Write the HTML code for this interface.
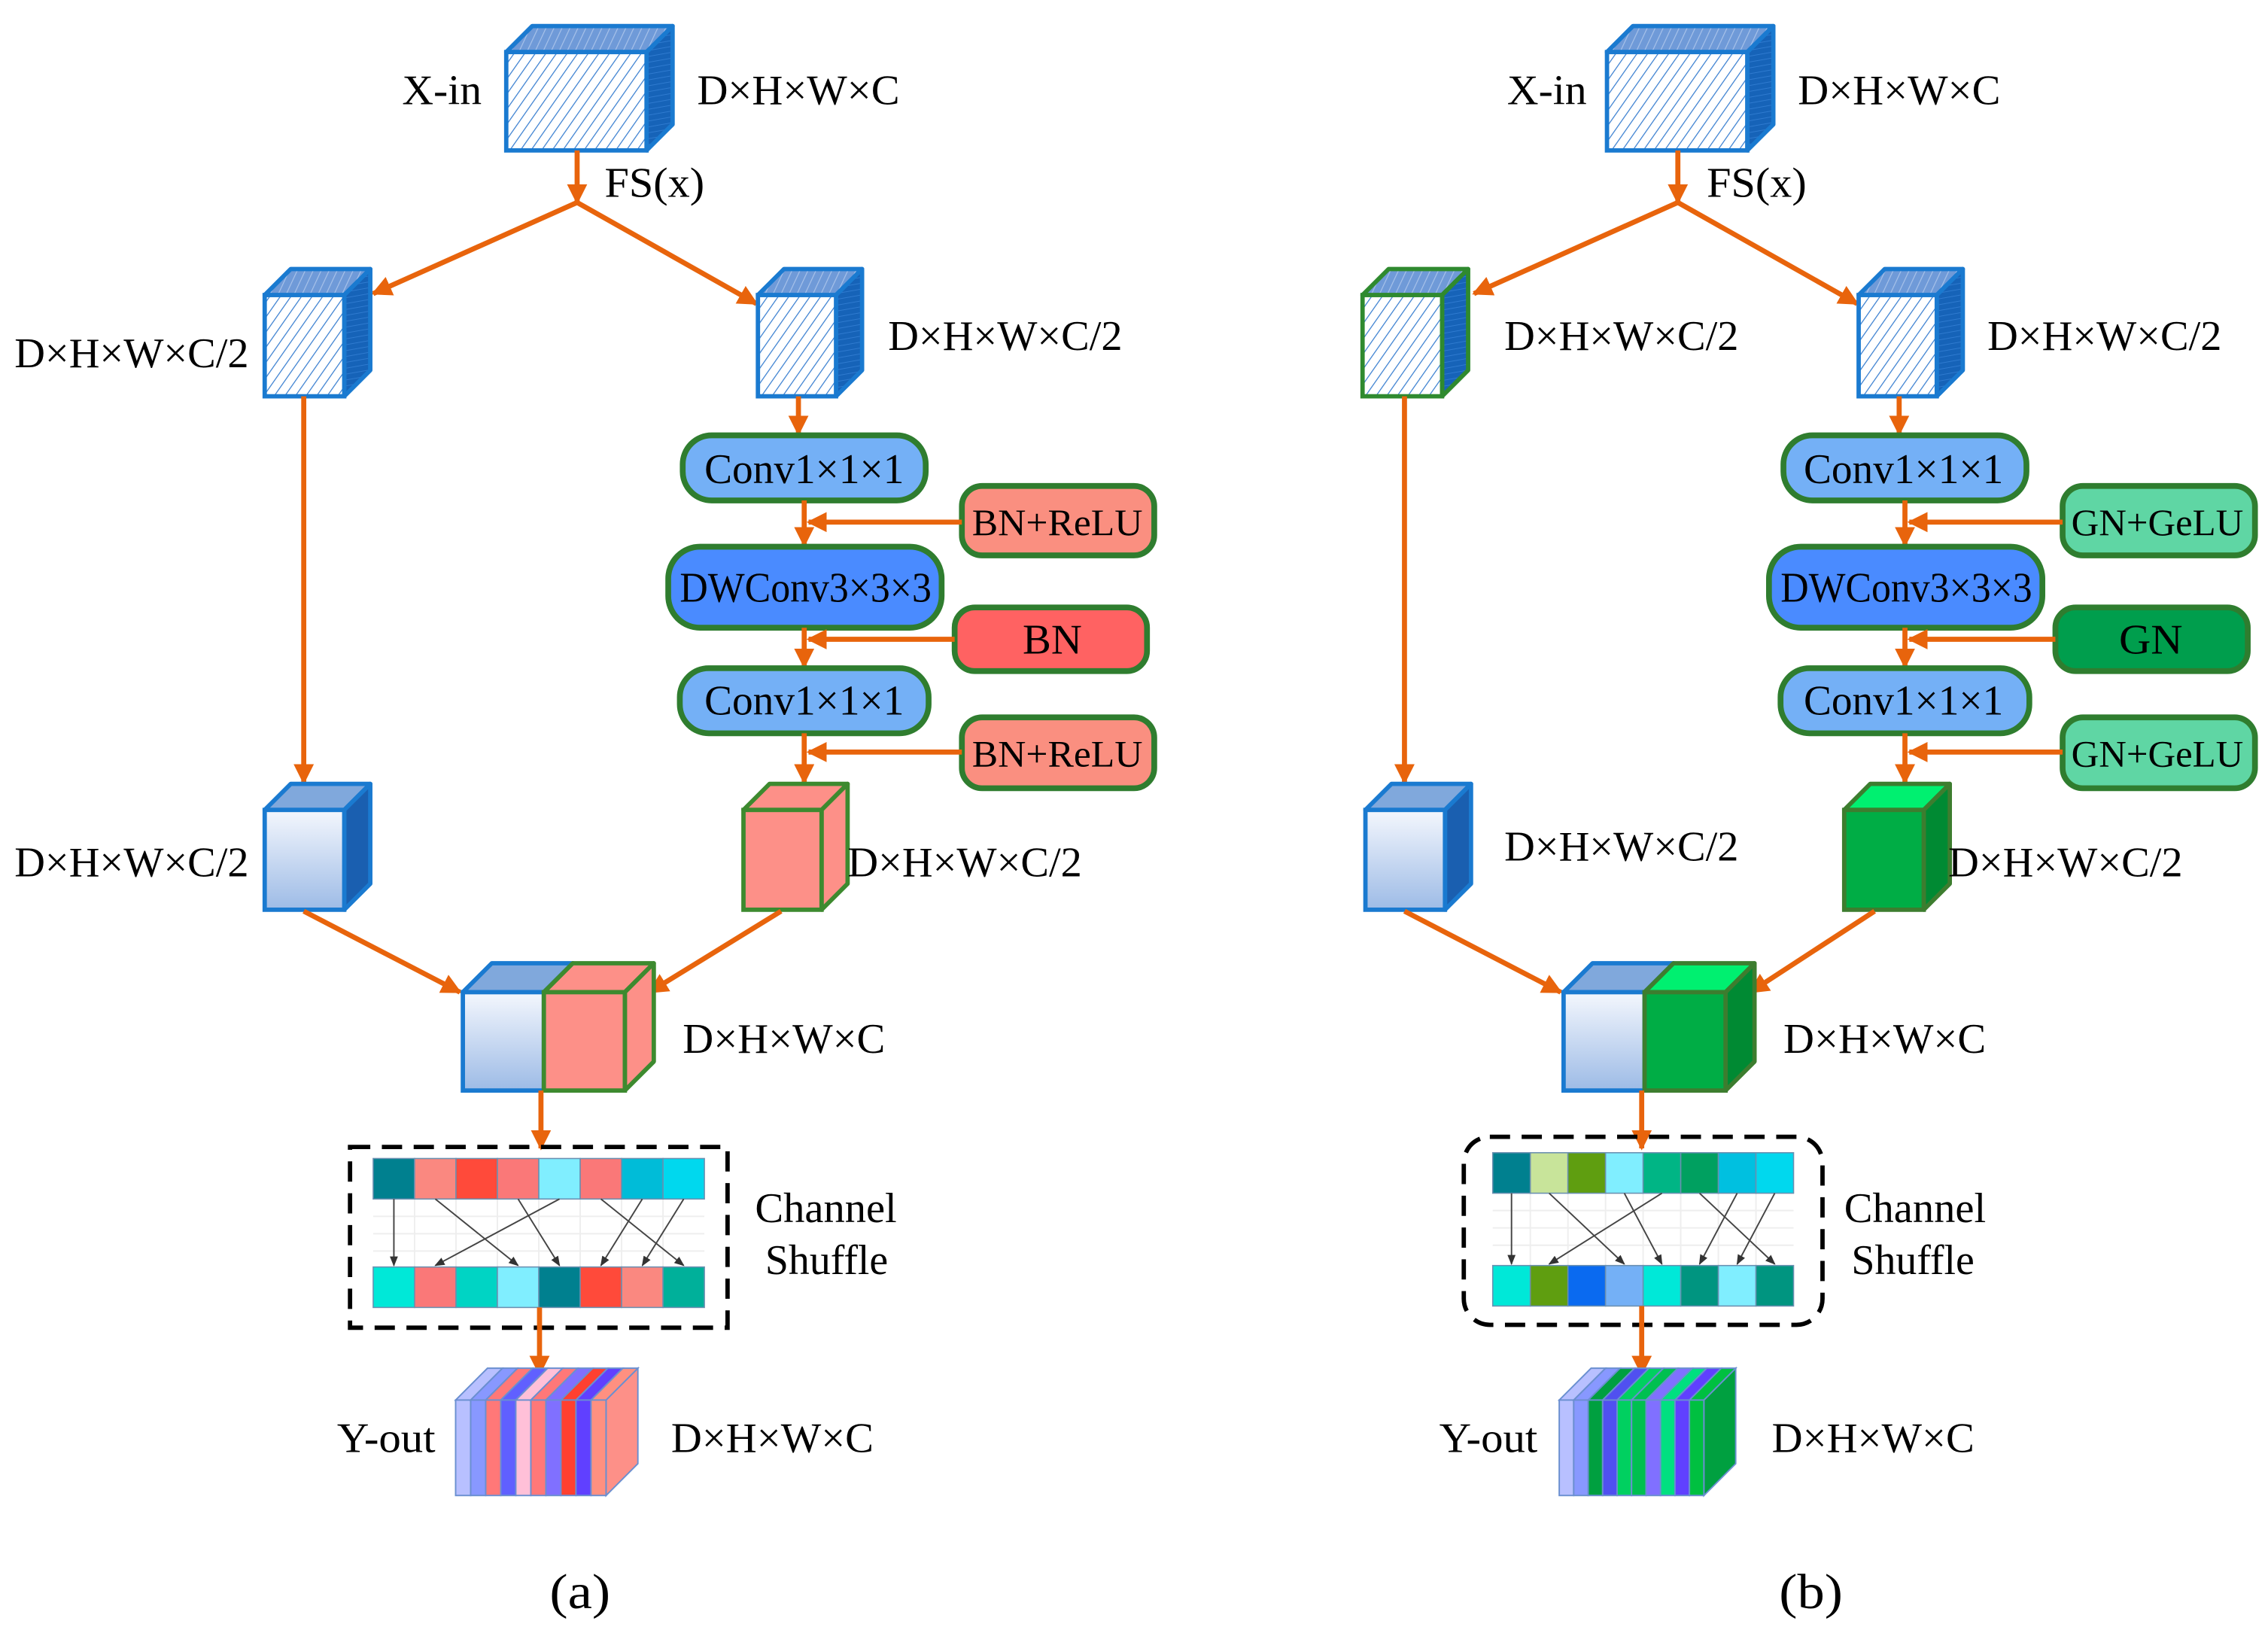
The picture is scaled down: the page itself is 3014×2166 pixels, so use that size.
<!DOCTYPE html>
<html><head><meta charset="utf-8">
<style>
html,body{margin:0;padding:0;background:#fff;}
svg{display:block;}
text{font-family:"Liberation Serif","DejaVu Serif",serif;fill:#000;}
</style></head><body>
<svg id="s" width="3014" height="2166" viewBox="0 0 1568 1127" preserveAspectRatio="none" xmlns="http://www.w3.org/2000/svg" font-family="Liberation Serif, DejaVu Serif, serif">
<defs>
<pattern id="hat" patternUnits="userSpaceOnUse" width="6" height="6" patternTransform="rotate(35)">
<rect width="6" height="6" fill="#fff"/><line x1="0" y1="0" x2="0" y2="6" stroke="#3a7fd0" stroke-width="1.3"/></pattern>
<pattern id="hatTop" patternUnits="userSpaceOnUse" width="5" height="5" patternTransform="rotate(25)">
<rect width="5" height="5" fill="#6f9ad8"/><line x1="0" y1="0" x2="0" y2="5" stroke="#a9c3ea" stroke-width="1.2"/></pattern>
<pattern id="hatSide" patternUnits="userSpaceOnUse" width="4" height="4" patternTransform="rotate(80)">
<rect width="4" height="4" fill="#1663b8"/><line x1="0" y1="0" x2="0" y2="4" stroke="#2f7bd0" stroke-width="1"/></pattern>
<linearGradient id="bg" x1="0" y1="0" x2="0" y2="1"><stop offset="0" stop-color="#f4f7fd"/><stop offset="1" stop-color="#9dbbe6"/></linearGradient>
<marker id="ar" viewBox="0 0 10 10" refX="9" refY="5" markerWidth="4" markerHeight="4" orient="auto"><path d="M0,0L10,5L0,10z" fill="#e8640c"/></marker>
<marker id="ak" viewBox="0 0 10 10" refX="9" refY="5" markerWidth="7" markerHeight="7" orient="auto"><path d="M0,1L10,5L0,9z" fill="#333"/></marker>
</defs>
<g id="g"></g>

<g font-size="29" font-family="Liberation Serif, DejaVu Serif, serif">
<text x="278" y="72" textLength="55" lengthAdjust="spacingAndGlyphs">X-in</text>
<text x="482" y="72" textLength="140" lengthAdjust="spacingAndGlyphs">D×H×W×C</text>
<text x="418" y="136" textLength="69" lengthAdjust="spacingAndGlyphs">FS(x)</text>
<text x="10" y="254" textLength="162" lengthAdjust="spacingAndGlyphs">D×H×W×C/2</text>
<text x="614" y="242" textLength="162" lengthAdjust="spacingAndGlyphs">D×H×W×C/2</text>
<text x="487" y="334" textLength="138" lengthAdjust="spacingAndGlyphs">Conv1×1×1</text>
<text x="672" y="370" textLength="118" lengthAdjust="spacingAndGlyphs" font-size="26">BN+ReLU</text>
<text x="470" y="416" textLength="174" lengthAdjust="spacingAndGlyphs">DWConv3×3×3</text>
<text x="707" y="452" textLength="41" lengthAdjust="spacingAndGlyphs">BN</text>
<text x="487" y="494" textLength="138" lengthAdjust="spacingAndGlyphs">Conv1×1×1</text>
<text x="672" y="530" textLength="118" lengthAdjust="spacingAndGlyphs" font-size="26">BN+ReLU</text>
<text x="10" y="606" textLength="162" lengthAdjust="spacingAndGlyphs">D×H×W×C/2</text>
<text x="586" y="606" textLength="162" lengthAdjust="spacingAndGlyphs">D×H×W×C/2</text>
<text x="472" y="728" textLength="140" lengthAdjust="spacingAndGlyphs">D×H×W×C</text>
<text x="522" y="845" textLength="98" lengthAdjust="spacingAndGlyphs">Channel</text>
<text x="529" y="881" textLength="85" lengthAdjust="spacingAndGlyphs">Shuffle</text>
<text x="233" y="1004" textLength="68" lengthAdjust="spacingAndGlyphs">Y-out</text>
<text x="464" y="1004" textLength="140" lengthAdjust="spacingAndGlyphs">D×H×W×C</text>
<text x="380" y="1112" font-size="34" textLength="42" lengthAdjust="spacingAndGlyphs">(a)</text>
</g>
<g font-size="29" font-family="Liberation Serif, DejaVu Serif, serif">
<text x="1042" y="72" textLength="55" lengthAdjust="spacingAndGlyphs">X-in</text>
<text x="1243" y="72" textLength="140" lengthAdjust="spacingAndGlyphs">D×H×W×C</text>
<text x="1180" y="136" textLength="69" lengthAdjust="spacingAndGlyphs">FS(x)</text>
<text x="1040" y="242" textLength="162" lengthAdjust="spacingAndGlyphs">D×H×W×C/2</text>
<text x="1374" y="242" textLength="162" lengthAdjust="spacingAndGlyphs">D×H×W×C/2</text>
<text x="1247" y="334" textLength="138" lengthAdjust="spacingAndGlyphs">Conv1×1×1</text>
<text x="1432" y="370" textLength="119" lengthAdjust="spacingAndGlyphs" font-size="26">GN+GeLU</text>
<text x="1231" y="416" textLength="174" lengthAdjust="spacingAndGlyphs">DWConv3×3×3</text>
<text x="1465" y="452" textLength="44" lengthAdjust="spacingAndGlyphs">GN</text>
<text x="1247" y="494" textLength="138" lengthAdjust="spacingAndGlyphs">Conv1×1×1</text>
<text x="1432" y="530" textLength="119" lengthAdjust="spacingAndGlyphs" font-size="26">GN+GeLU</text>
<text x="1040" y="595" textLength="162" lengthAdjust="spacingAndGlyphs">D×H×W×C/2</text>
<text x="1347" y="606" textLength="162" lengthAdjust="spacingAndGlyphs">D×H×W×C/2</text>
<text x="1233" y="728" textLength="140" lengthAdjust="spacingAndGlyphs">D×H×W×C</text>
<text x="1275" y="845" textLength="98" lengthAdjust="spacingAndGlyphs">Channel</text>
<text x="1280" y="881" textLength="85" lengthAdjust="spacingAndGlyphs">Shuffle</text>
<text x="995" y="1004" textLength="68" lengthAdjust="spacingAndGlyphs">Y-out</text>
<text x="1225" y="1004" textLength="140" lengthAdjust="spacingAndGlyphs">D×H×W×C</text>
<text x="1230" y="1112" font-size="34" textLength="44" lengthAdjust="spacingAndGlyphs">(b)</text>
</g>
</svg>
<script>
var g=document.getElementById('g'),NS='http://www.w3.org/2000/svg';
function el(t,a){var e=document.createElementNS(NS,t);for(var k in a)e.setAttribute(k,a[k]);g.appendChild(e);return e;}
function cube(x,y,w,h,d,f,t,s,st,sw){
 el('polygon',{points:[x,y,x+d,y-d,x+w+d,y-d,x+w,y].join(','),fill:t,stroke:st,'stroke-width':sw||3,'stroke-linejoin':'round'});
 el('polygon',{points:[x+w,y,x+w+d,y-d,x+w+d,y+h-d,x+w,y+h].join(','),fill:s,stroke:st,'stroke-width':sw||3,'stroke-linejoin':'round'});
 el('rect',{x:x,y:y,width:w,height:h,fill:f,stroke:st,'stroke-width':sw||3});
}
var OR='#e8640c';
function arr(x1,y1,x2,y2){el('line',{x1:x1,y1:y1,x2:x2,y2:y2,stroke:OR,'stroke-width':3.5,'marker-end':'url(#ar)'});}
function box(x,y,w,h,f,r){el('rect',{x:x,y:y,width:w,height:h,rx:r||18,fill:f,stroke:'#2f7d2f','stroke-width':4});}
function panel(o,b){
 cube(350+o,36,97,68,18,'url(#hat)','url(#hatTop)','url(#hatSide)','#1a7ad0');
 arr(399+o,104,399+o,140);
 arr(399+o,140,258+o,203);
 arr(399+o,140,523+o,210);
 cube(183+o+(b?-2:0),204,55,70,18,'url(#hat)','url(#hatTop)','url(#hatSide)',b?'#2f8a2f':'#1a7ad0');
 cube(524+o,204,54,70,18,'url(#hat)','url(#hatTop)','url(#hatSide)','#1a7ad0');
 arr(552+o,274,552+o,300);
 arr(210+o,274,210+o,541);
 box(472+o,301,168,45,'#74b0f6',20);
 box(665+o,336,133,48,b?'#5fd6a4':'#fa8f80',14);
 arr(556+o,346,556+o,377);arr(665+o,361,559+o,361);
 box(462+o,378,189,56,'#4a8bff',22);
 box(660+o,420,133,44,b?'#009e4d':'#ff6262',14);
 arr(556+o,434,556+o,461);arr(660+o,442,559+o,442);
 box(470+o,462,172,45,'#74b0f6',20);
 box(665+o,496,133,49,b?'#5fd6a4':'#fa8f80',14);
 arr(556+o,507,556+o,541);arr(665+o,520,559+o,520);
 cube(183+o,560,55,69,18,'url(#bg)','#80a8dc','#1a5fb0','#1a7ad0');
 if(b) cube(1275,560,55,69,18,'#00ad45','#00f070','#008a33','#3d7d2f');
 else cube(514,560,54,69,18,'#fd9088','#fd9088','#fd9088','#3d8a2f');
 arr(210+o,630,318+o,686);
 arr(540+o+(b?-5:0),630,449+o,686);
 cube(320+o,686,56,68,20,'url(#bg)','#80a8dc','#1a5fb0','#1a7ad0');
 if(b) cube(1137,686,56,68,20,'#00ad45','#00f070','#008a33','#3d7d2f');
 else cube(376,686,56,68,20,'#fd9088','#fd9088','#fd9088','#3d8a2f');
 arr(374+o,754,374+o,794);
 var bx=b?[1012,786,248,130]:[242,793,261,125];
 el('rect',{x:bx[0],y:bx[1],width:bx[2],height:bx[3],rx:b?18:0,fill:'none',stroke:'#000','stroke-width':3,'stroke-dasharray':'14,8'});
 var tx=b?1032:258, tw=b?208:229, ty=b?797:801, by=b?875:876, ch=28, cw=tw/8;
 for(var i=1;i<8;i++)el('line',{x1:tx+cw*i,y1:ty+ch,x2:tx+cw*i,y2:by,stroke:'#eee','stroke-width':1});
 for(var j=1;j<4;j++)el('line',{x1:tx,y1:ty+ch+j*12,x2:tx+tw,y2:ty+ch+j*12,stroke:'#eee','stroke-width':1});
 var top=b?['#00808f','#c8e49a','#5f9e10','#80eeff','#00b585','#00a060','#00c0e0','#00d8ee']:['#00808f','#fa8880','#ff4a3a','#fa7878','#80eeff','#fa7878','#00bcd8','#00d8ee'];
 var bot=b?['#00e8d8','#5f9e10','#0a6af0','#74b0f6','#00e8d8','#009580','#80eeff','#009580']:['#00e8d8','#fa7878','#00d4c4','#80eeff','#00808f','#ff4a3a','#fa8880','#00b09a'];
 for(var i=0;i<8;i++){el('rect',{x:tx+cw*i,y:ty,width:cw,height:ch,fill:top[i],stroke:'#6a8fb0','stroke-width':0.8});el('rect',{x:tx+cw*i,y:by,width:cw,height:ch,fill:bot[i],stroke:'#6a8fb0','stroke-width':0.8});}
 var m=[[0,0],[1,3],[4,1],[3,4],[5,7],[6,5],[7,6]];
 m.forEach(function(p){el('line',{x1:tx+cw*(p[0]+0.5),y1:ty+ch,x2:tx+cw*(p[1]+0.5),y2:by-1,stroke:'#444','stroke-width':1,'marker-end':'url(#ak)'});});
 arr(374+o-(b?0:1),by+ch,374+o-(b?0:1),950);
 var yx=b?1078:315, yy=968, yw=b?100:104, n=10, sw2=yw/n, d=22;
 var cols=b?['#b8c0ff','#8898ff','#00a040','#5050f0','#00d060','#00c050','#8070ff','#00e080','#6040ff','#00c040']:['#b8c0ff','#8898ff','#ff7878','#6060ff','#ffc0d8','#ff7878','#8070ff','#ff4030','#6040ff','#ff9080'];
 el('polygon',{points:[yx+yw,yy,yx+yw+d,yy-d,yx+yw+d,yy+66-d,yx+yw,yy+66].join(','),fill:b?'#00a040':'#fd9088',stroke:'#6a8fd0','stroke-width':1});
 for(var i=0;i<n;i++){var xx=yx+sw2*i;
  el('polygon',{points:[xx,yy,xx+d,yy-d,xx+sw2+d,yy-d,xx+sw2,yy].join(','),fill:cols[i],stroke:'#6a8fd0','stroke-width':1});
  el('rect',{x:xx,y:yy,width:sw2,height:66,fill:cols[i],stroke:'#6a8fd0','stroke-width':1});}
}
panel(0,false);panel(761,true);
</script>
</body></html>
